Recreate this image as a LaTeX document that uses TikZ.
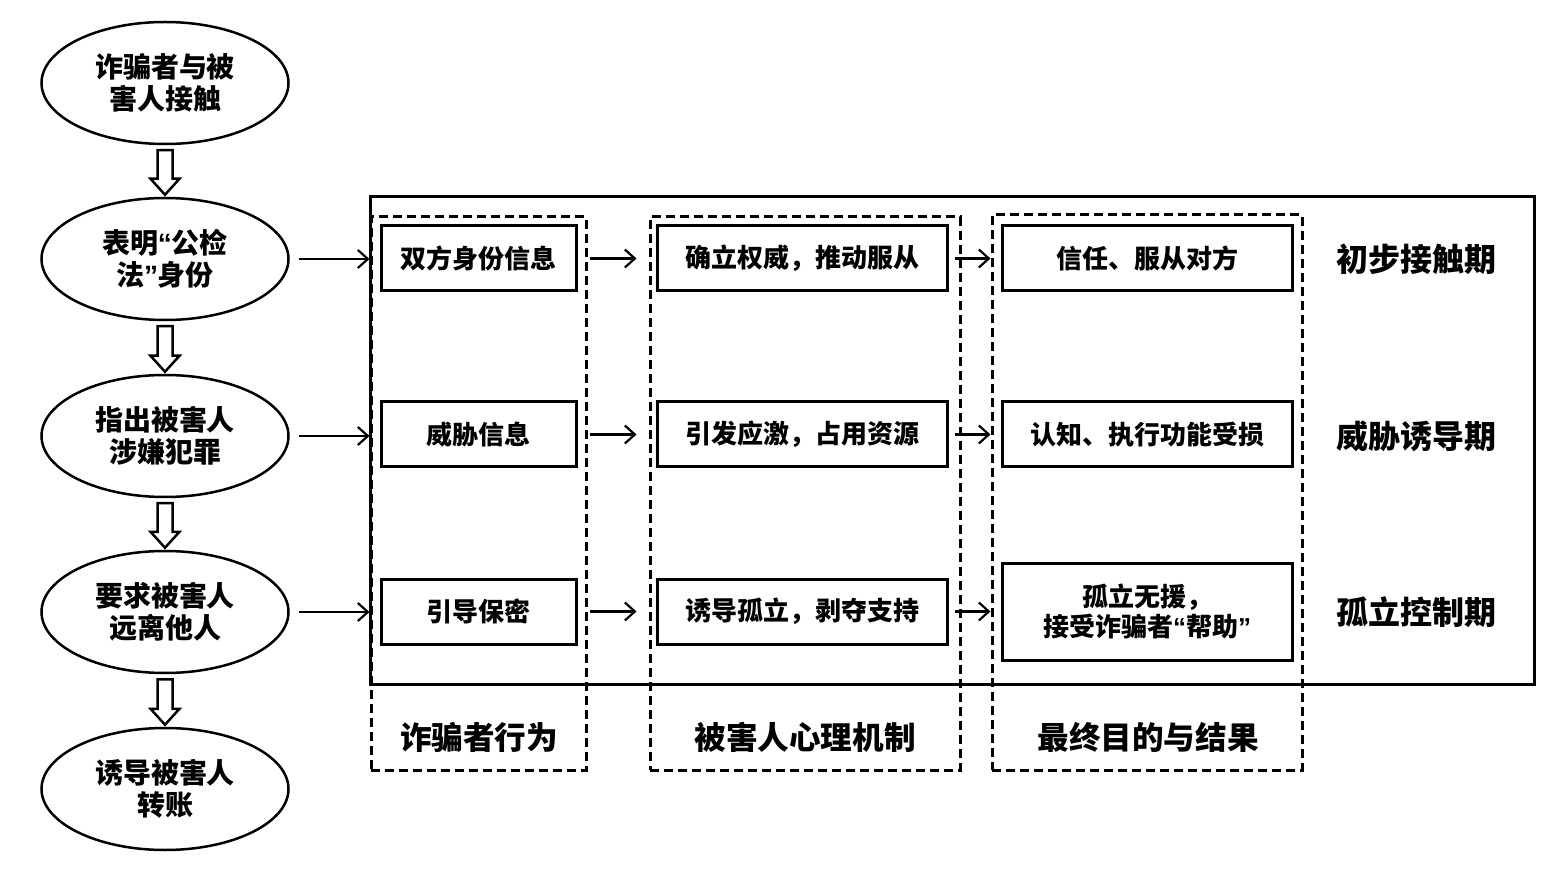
\documentclass[tikz,border=0pt]{standalone}
\usepackage{fontspec}
\setmainfont{Noto Sans CJK SC}
\newfontfamily\quotefont{Liberation Sans}
\newcommand{\myLQ}{{\quotefont\bfseries “}}
\newcommand{\myRQ}{{\quotefont\bfseries ”}}
\usetikzlibrary{arrows.meta,shapes.geometric}
\begin{document}
\begin{tikzpicture}[x=0.5pt,y=-0.5pt,
  ell/.style={draw,line width=1.25pt,ellipse,minimum width=123.5pt,minimum height=61pt,inner sep=0pt,align=center,font=\fontsize{14}{16}\selectfont\bfseries},
  inbox/.style={draw,line width=1.5pt,rectangle,inner sep=0pt,align=center,font=\fontsize{13}{15}\selectfont\bfseries},
  colbox/.style={draw,line width=1.5pt,dash pattern=on 4.5pt off 2.5pt,rectangle,inner sep=0pt},
  phase/.style={font=\fontsize{16}{19}\selectfont\bfseries},
  coltitle/.style={font=\fontsize{15.8}{18}\selectfont\bfseries},
  arr/.style={line width=1.1pt,-{Straight Barb[length=5pt,width=9pt,line width=1.1pt]}},
  hollow/.style={draw,line width=1.25pt,fill=white,line join=miter}
]
\useasboundingbox (0,0) rectangle (1560,877);
% ellipses
\node[ell] (e1) at (165,83) {诈骗者与被\\害人接触};
\node[ell] (e2) at (165,259) {表明\myLQ 公检\\法\myRQ 身份};
\node[ell] (e3) at (165,436) {指出被害人\\涉嫌犯罪};
\node[ell] (e4) at (165,612) {要求被害人\\远离他人};
\node[ell] (e5) at (165,789) {诱导被害人\\转账};
% hollow arrows
\foreach \a/\b in {e1/e2,e2/e3,e3/e4,e4/e5}{
  \path ([yshift=-2.5pt]\a.south) coordinate (t) ([yshift=1pt]\b.north) coordinate (h);
  \draw[hollow] ([xshift=-3.75pt]t) -- ([xshift=3.75pt]t) -- ([xshift=3.75pt,yshift=8pt]h) -- ([xshift=7.25pt,yshift=8pt]h) -- (h) -- ([xshift=-7.25pt,yshift=8pt]h) -- ([xshift=-3.75pt,yshift=8pt]h) -- cycle;
}
% big frame
\node[draw,line width=1.5pt,rectangle,inner sep=0pt,minimum width=582pt,minimum height=243.5pt] (frame) at (952,440.5) {};
% dashed columns
\node[colbox,minimum width=107.5pt,minimum height=276.5pt] (c1) at (478.5,493.5) {};
\node[colbox,minimum width=155pt,minimum height=276.5pt] (c2) at (805,493.5) {};
\node[colbox,minimum width=155pt,minimum height=277.5pt] (c3) at (1147,492.5) {};
% inner boxes
\node[inbox,minimum width=97.5pt,minimum height=32.5pt] (b11) at (478.5,258.5) {双方身份信息};
\node[inbox,minimum width=97.5pt,minimum height=32.5pt] (b12) at (478.5,434.5) {威胁信息};
\node[inbox,minimum width=97.5pt,minimum height=32.5pt] (b13) at (478.5,611.5) {引导保密};
\node[inbox,minimum width=145pt,minimum height=32.5pt] (b21) at (802,258.5) {确立权威，推动服从};
\node[inbox,minimum width=145pt,minimum height=32.5pt] (b22) at (802,434.5) {引发应激，占用资源};
\node[inbox,minimum width=145pt,minimum height=32.5pt] (b23) at (802,611.5) {诱导孤立，剥夺支持};
\node[inbox,minimum width=145pt,minimum height=32.5pt] (b31) at (1147,258.5) {信任、服从对方};
\node[inbox,minimum width=145pt,minimum height=32.5pt] (b32) at (1147,434.5) {认知、执行功能受损};
\node[inbox,minimum width=145pt,minimum height=48.5pt] (b33) at (1147,611.5) {孤立无援，\\接受诈骗者\myLQ 帮助\myRQ};
% phase labels
\node[phase] (p1) at (1416,259) {初步接触期};
\node[phase] (p2) at (1416,436) {威胁诱导期};
\node[phase] (p3) at (1416,612) {孤立控制期};
% column titles
\node[coltitle] (t1) at (479,737) {诈骗者行为};
\node[coltitle] (t2) at (805,737) {被害人心理机制};
\node[coltitle] (t3) at (1148,737) {最终目的与结果};
% arrows from ellipses
\draw[arr] ([xshift=4.5pt]e2.east) -- (e2.east -| c1.west);
\draw[arr] ([xshift=4.5pt]e3.east) -- (e3.east -| c1.west);
\draw[arr] ([xshift=4.5pt]e4.east) -- (e4.east -| c1.west);
% arrows between columns
\foreach \r in {1,2,3}{
  \draw[arr] ([xshift=1pt]b1\r.east -| c1.east) -- ([xshift=-6pt]b2\r.west -| c2.west);
  \draw[arr] ([xshift=3pt]b2\r.east) -- (b2\r.east -| c3.west);
}
\end{tikzpicture}
\end{document}
